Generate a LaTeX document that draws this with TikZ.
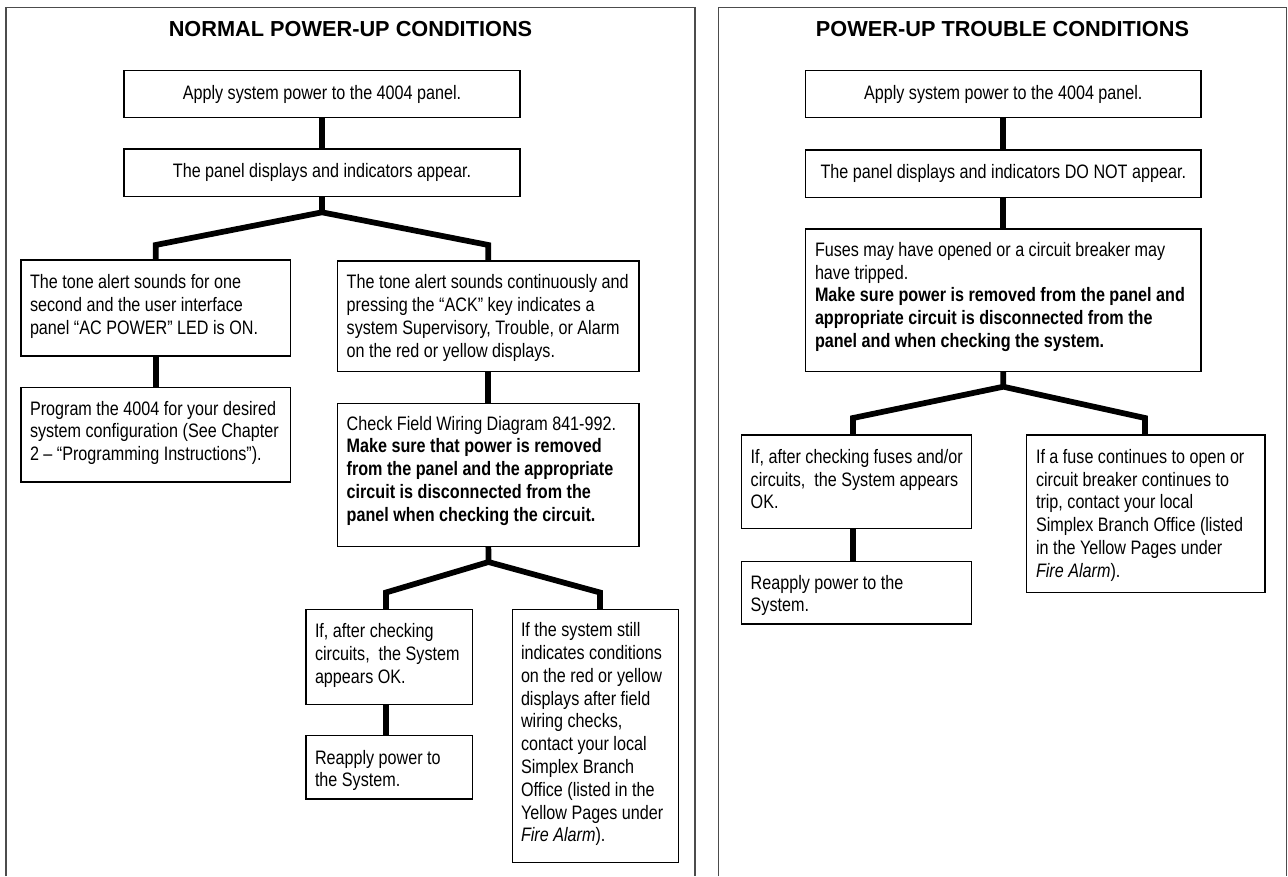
\documentclass[tikz,border=0pt]{standalone}
\usepackage{fontspec}
\newfontfamily\bodyfam{Liberation Sans}[FakeStretch=0.83]
\newfontfamily\titlefam{Liberation Sans}
\newcommand{\bodyfont}{\bodyfam\fontsize{14.6pt}{17.1pt}\selectfont}
\newcommand{\titlefont}{\titlefam\bfseries\fontsize{16.3pt}{19pt}\selectfont}
\newcommand{\lnstrut}{\rule{0pt}{12pt}}
\tikzset{
  boxst/.style={draw=black, line width=1.1pt, rectangle, inner sep=0pt, outer sep=0pt},
  conn/.style={line width=4.3pt, draw=black, line join=miter},
  panelframe/.style={draw=black!70, line width=1pt},
  txt/.style={anchor=north west, inner sep=0pt, outer sep=0pt, align=left, font=\bodyfont},
  txtc/.style={anchor=base, inner sep=0pt, outer sep=0pt, font=\bodyfont},
  ttl/.style={anchor=base, inner sep=0pt, outer sep=0pt, font=\titlefont},
}
\newcommand{\flowbox}[5]{\node[boxst, minimum width={(#4-#2)*0.75pt}, minimum height={(#5-#3)*0.75pt}] (#1) at ({(#2+#4)/2},{(#3+#5)/2}) {};}
\newcommand{\flowtext}[4]{\node[txt] (#1) at (#2,{#3-16}) {\lnstrut #4};}
\begin{document}
\begin{tikzpicture}[x=0.75pt, y=-0.75pt]
\fill[white] (0,0) rectangle (1288,876);
\useasboundingbox (0,0) rectangle (1288,876);

% panel frames
\draw[panelframe] (6,876) -- (6,7.3) -- (695,7.3) -- (695,876);
\draw[panelframe] (718.3,876) -- (718.3,7.3) -- (1286.5,7.3) -- (1286.5,876);

% titles
\node[ttl] (t1) at (350.5,36) {NORMAL POWER-UP CONDITIONS};
\node[ttl] (t2) at (1002.5,36) {POWER-UP TROUBLE CONDITIONS};

% boxes, left
\flowbox{a1}{124}{70.7}{520}{117.3}
\flowbox{a2}{124}{149}{520}{196.7}
\flowbox{a3}{21}{260}{290.3}{356}
\flowbox{a4}{337.7}{261}{639}{371.7}
\flowbox{a5}{21}{387.3}{290.3}{482}
\flowbox{a6}{337.7}{403.3}{639}{546.3}
\flowbox{b1}{306}{609.7}{472.7}{704.7}
\flowbox{b2}{306}{735.7}{472.7}{799}
\flowbox{b3}{512.3}{609.7}{678.7}{862.3}
% boxes, right
\flowbox{r1}{805.7}{70.7}{1201}{117.3}
\flowbox{r2}{805.7}{150}{1201}{197.3}
\flowbox{r3}{805.7}{229}{1201}{371.7}
\flowbox{r4}{741.7}{435}{971.7}{528.7}
\flowbox{r5}{741.7}{561.3}{971.7}{624}
\flowbox{r6}{1026.7}{435}{1265}{592.3}

% texts, left
\node[txtc] (a1t) at (322,99) {Apply system power to the 4004 panel.};
\node[txtc] (a2t) at (322,177.7) {The panel displays and indicators appear.};
\flowtext{a3t}{30}{288.7}{The tone alert sounds for one\\second and the user interface\\panel “AC POWER” LED is ON.}
\flowtext{a5t}{30}{415}{Program the 4004 for your desired\\system configuration (See Chapter\\2 – “Programming Instructions”).}
\flowtext{a4t}{346.7}{288.7}{The tone alert sounds continuously and\\pressing the “ACK” key indicates a\\system Supervisory, Trouble, or Alarm\\on the red or yellow displays.}
\flowtext{a6t}{346.7}{430}{Check Field Wiring Diagram 841-992.\\\textbf{Make sure that power is removed}\\\textbf{from the panel and the appropriate}\\\textbf{circuit is disconnected from the}\\\textbf{panel when checking the circuit.}}
\flowtext{b1t}{315}{637.7}{If, after checking\\circuits,\ \ the System\\appears OK.}
\flowtext{b2t}{315}{764}{Reapply power to\\the System.}
\flowtext{b3t}{521}{636.7}{If the system still\\indicates conditions\\on the red or yellow\\displays after field\\wiring checks,\\contact your local\\Simplex Branch\\Office (listed in the\\Yellow Pages under\\\textit{Fire Alarm}).}
% texts, right
\node[txtc] (r1t) at (1003.3,99) {Apply system power to the 4004 panel.};
\node[txtc] (r2t) at (1003.3,178.7) {The panel displays and indicators DO NOT appear.};
\flowtext{r3t}{815}{256.3}{Fuses may have opened or a circuit breaker may\\have tripped.\\\textbf{Make sure power is removed from the panel and}\\\textbf{appropriate circuit is disconnected from the}\\\textbf{panel and when checking the system.}}
\flowtext{r4t}{750.7}{463.3}{If, after checking fuses and/or\\circuits,\ \ the System appears\\OK.}
\flowtext{r5t}{750.7}{589}{Reapply power to the\\System.}
\flowtext{r6t}{1036}{463.3}{If a fuse continues to open or\\circuit breaker continues to\\trip, contact your local\\Simplex Branch Office (listed\\in the Yellow Pages under\\\textit{Fire Alarm}).}

% connectors, left
\coordinate (j1) at (322,212.3);
\coordinate (h1) at (0,245);
\draw[conn] (a1.south) -- (a2.north);
\draw[conn] (a2.south) -- (j1);
\draw[conn] (a3.north) -- (a3.north |- h1) -- (j1) -- (a4.north |- h1) -- (a4.north);
\draw[conn] (a3.south) -- (a5.north);
\draw[conn] (a4.south) -- (a6.north);
\coordinate (j2) at (488.5,562);
\coordinate (l2) at (386,592.5);
\coordinate (r2c) at (600,592.5);
\draw[conn] (a6.south) -- (j2);
\draw[conn] (l2 |- b1.north) -- (l2) -- (j2) -- (r2c) -- (r2c |- b3.north);
\draw[conn] (l2 |- b1.south) -- (l2 |- b2.north);
% connectors, right
\draw[conn] (r1.south) -- (r2.north);
\draw[conn] (r2.south) -- (r3.north);
\coordinate (j3) at (1003.3,386.7);
\coordinate (l3) at (853,418);
\coordinate (r3c) at (1145,418);
\draw[conn] (r3.south) -- (j3);
\draw[conn] (l3 |- r4.north) -- (l3) -- (j3) -- (r3c) -- (r3c |- r6.north);
\draw[conn] (l3 |- r4.south) -- (l3 |- r5.north);
\end{tikzpicture}
\end{document}
